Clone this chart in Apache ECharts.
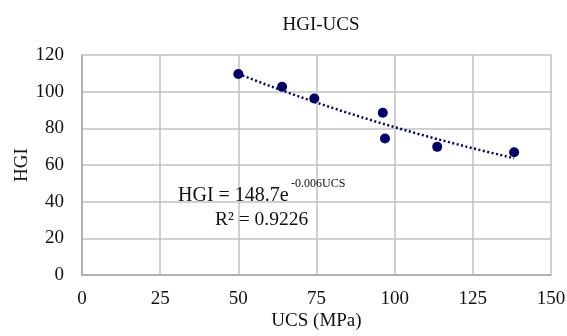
<!DOCTYPE html>
<html>
<head>
<meta charset="utf-8">
<script src="https://cdn.jsdelivr.net/npm/echarts@6/dist/echarts.min.js"></script>
<style>
html,body{margin:0;padding:0;background:#fff;}
#c{width:567px;height:336px;}
</style>
</head>
<body>
<div id="c"></div>
<script>
// Data
var ucs = [50, 64, 74.3, 96.2, 96.9, 113.6, 138.2];
var hgi = [109.6, 102.7, 96.3, 88.5, 74.5, 69.9, 67.0];
var xTicks = [0, 25, 50, 75, 100, 125, 150];
var yTicks = [0, 20, 40, 60, 80, 100, 120];
var titleText = 'HGI-UCS';
var xName = 'UCS (MPa)';
var yName = 'HGI';
var eqMain = 'HGI = 148.7e';
var eqExp = '-0.006UCS';
var r2Text = 'R² = 0.9226';

// Exponential least-squares fit (as Excel's trendline): ln y = ln a + b x
function expFit(xs, ys) {
  var n = xs.length, sx = 0, sy = 0, sxx = 0, sxy = 0;
  for (var i = 0; i < n; i++) {
    var ly = Math.log(ys[i]);
    sx += xs[i]; sy += ly; sxx += xs[i] * xs[i]; sxy += xs[i] * ly;
  }
  var b = (n * sxy - sx * sy) / (n * sxx - sx * sx);
  var a = Math.exp((sy - b * sx) / n);
  return {a: a, b: b};
}
var fit = expFit(ucs, hgi);
var xMin = Math.min.apply(null, ucs), xMax = Math.max.apply(null, ucs);
var trend = [];
for (var k = 0; k <= 60; k++) {
  var x = xMin + (xMax - xMin) * k / 60;
  trend.push([x, fit.a * Math.exp(fit.b * x)]);
}
var points = ucs.map(function (u, i) { return [u, hgi[i]]; });

var font = '"Liberation Serif", "Times New Roman", serif';
var navy = '#00006b';
var txt = '#111';
var chart = echarts.init(document.getElementById('c'), null, {renderer: 'canvas'});
chart.setOption({
  animation: false,
  backgroundColor: '#fff',
  title: {
    text: titleText, left: 316, top: 11, textAlign: 'center',
    textStyle: {fontFamily: font, fontSize: 19, fontWeight: 'normal', color: txt}
  },
  grid: {left: 82, right: 16, top: 55, bottom: 61, containLabel: false, outerBoundsMode: 'none'},
  xAxis: {
    type: 'value', min: xTicks[0], max: xTicks[xTicks.length - 1], interval: 25,
    name: xName, nameLocation: 'middle', nameGap: 37, nameMoveOverlap: false,
    nameTextStyle: {fontFamily: font, fontSize: 19, color: txt},
    axisLine: {show: true, lineStyle: {color: '#a6a6a6', width: 1.5}},
    axisTick: {show: false},
    axisLabel: {fontFamily: font, fontSize: 19, color: txt, margin: 15},
    splitLine: {show: true, lineStyle: {color: '#c0c0c0', width: 1.5}}
  },
  yAxis: {
    type: 'value', min: yTicks[0], max: yTicks[yTicks.length - 1], interval: 20,
    name: yName, nameLocation: 'middle', nameGap: 50, nameMoveOverlap: false,
    nameTextStyle: {fontFamily: font, fontSize: 19, color: txt},
    axisLine: {show: true, lineStyle: {color: '#a6a6a6', width: 1.5}},
    axisTick: {show: false},
    axisLabel: {fontFamily: font, fontSize: 19, color: txt, margin: 18},
    splitLine: {show: true, lineStyle: {color: '#c0c0c0', width: 1.5}}
  },
  graphic: [{
    type: 'text', x: 178, y: 196, silent: true, z: 100,
    style: {text: eqMain, fontFamily: font, fontSize: 20, fill: txt, align: 'left', verticalAlign: 'middle'}
  }, {
    type: 'text', x: 291, y: 184, silent: true, z: 100,
    style: {text: eqExp, fontFamily: font, fontSize: 12, fill: txt, align: 'left', verticalAlign: 'middle'}
  }, {
    type: 'text', x: 215, y: 220, silent: true, z: 100,
    style: {text: r2Text, fontFamily: font, fontSize: 19.5, fill: txt, align: 'left', verticalAlign: 'middle'}
  }],
  series: [{
    type: 'line', data: trend, showSymbol: false, smooth: false,
    lineStyle: {color: navy, width: 2.5, type: [2, 2.5]}, z: 2
  }, {
    type: 'scatter', data: points, symbol: 'circle', symbolSize: 10,
    itemStyle: {color: navy, opacity: 1}, z: 3
  }]
});
</script>
</body>
</html>
